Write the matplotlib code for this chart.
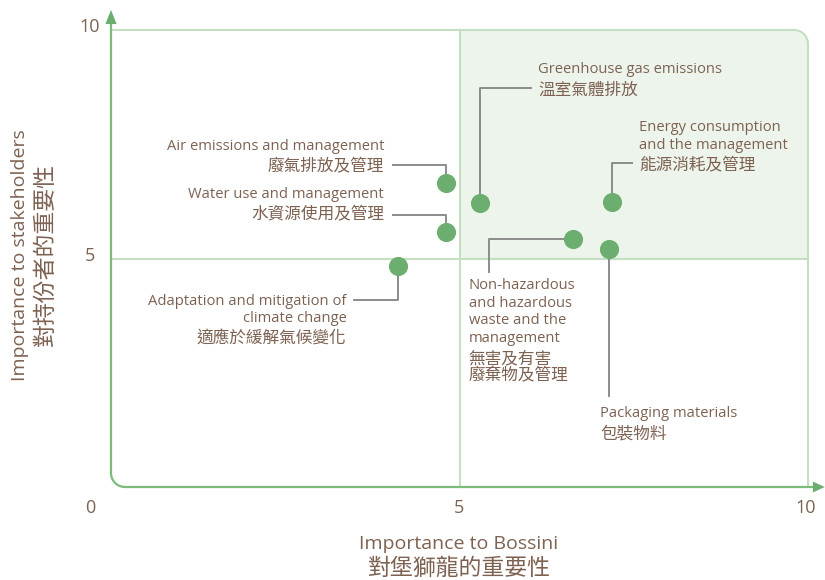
import numpy as np
import matplotlib.pyplot as plt
from matplotlib.patches import Polygon

plt.rcParams['font.family'] = ['Open Sans', 'Noto Sans CJK TC', 'DejaVu Sans']

# materiality topics
topics = [
    ['Air emissions and management', '廢氣排放及管理'],
    ['Water use and management', '水資源使用及管理'],
    ['Greenhouse gas emissions', '溫室氣體排放'],
    ['Energy consumption', 'and the management', '能源消耗及管理'],
    ['Non-hazardous', 'and hazardous', 'waste and the', 'management', '無害及有害', '廢棄物及管理'],
    ['Packaging materials', '包裝物料'],
    ['Adaptation and mitigation of', 'climate change', '適應於緩解氣候變化'],
]
bossini = [4.81, 4.81, 5.29, 7.19, 6.63, 7.14, 4.12]
stakeholders = [6.65, 5.58, 6.21, 6.24, 5.43, 5.21, 4.84]

# label layout: text anchor (x, first line y), alignment, leader route
label_pos = [(3.92, 7.45, 'right'), (3.92, 6.41, 'right'), (6.13, 9.14, 'left'),
             (7.58, 7.86, 'left'), (5.13, 4.40, 'left'), (7.02, 1.61, 'left'),
             (3.38, 4.07, 'right')]
leaders = [('vh', 7.05, 4.04), ('vh', 5.96, 4.04), ('vh', 8.72, 6.02),
           ('vh', 7.08, 7.48), ('hv', 5.42, 4.70), ('v', 2.0, None),
           ('vh', 4.09, 3.49)]

TXT = '#7d6252'
DARK = '#7dbb7d'
LIGHT = '#c4e0c2'
FILL = '#edf4eb'
DOT = '#6cae6f'
GREY = '#8c8c8c'

fig = plt.figure(figsize=(8.25, 5.8), dpi=100)
ax = fig.add_axes([111 / 825, 93 / 580, 697 / 825, 457 / 580])
ax.set_xlim(0, 10)
ax.set_ylim(0, 10)
ax.axis('off')

# corner radius in data units (~14 px)
rx, ry = 14 / 69.7, 14 / 45.7


def arc(cx, cy, a0, a1):
    t = np.radians(np.linspace(a0, a1, 20))
    return list(cx + rx * np.cos(t)), list(cy + ry * np.sin(t))


# shaded upper-right quadrant
ax_, ay_ = arc(10 - rx, 10 - ry, 0, 90)
qx = [5, 10] + ax_ + [5]
qy = [5, 5] + ay_ + [10]
ax.fill(qx, qy, color=FILL, lw=0, zorder=0, clip_on=False)

# light top/right border and mid lines
ax.plot([0] + ax_[::-1] + [10], [10] + ay_[::-1] + [0], color=LIGHT, lw=1.5,
        zorder=1, clip_on=False, solid_capstyle='butt')
ax.plot([5, 5], [0, 10], color=LIGHT, lw=1.5, zorder=1, clip_on=False)
ax.plot([0, 10], [5, 5], color=LIGHT, lw=1.5, zorder=1, clip_on=False)

# dark axes with rounded corner
bx, by = arc(rx, ry, 180, 270)
ax.plot([0] + bx + [10.1], [10.2] + by + [0], color=DARK, lw=1.6, zorder=2, clip_on=False)
ax.add_patch(Polygon([(0, 10.44), (-0.08, 10.13), (0.08, 10.13)], closed=True,
                     color=DOT, lw=0, clip_on=False, zorder=2))
ax.add_patch(Polygon([(10.24, 0), (10.07, 0.12), (10.07, -0.12)], closed=True,
                     color=DOT, lw=0, clip_on=False, zorder=2))

# tick labels
for s, x, y in [('10', 100, 27), ('5', 95, 256), ('0', 90, 508)]:
    fig.text(x / 825, 1 - y / 580, s, ha='right' if s != '0' else 'center',
             va='center', fontsize=13, color=TXT)
for s, x in [('5', 459), ('10', 806)]:
    fig.text(x / 825, 1 - 508 / 580, s, ha='center', va='center', fontsize=13, color=TXT)

# axis titles
fig.text(459 / 825, 1 - 544 / 580, 'Importance to Bossini', ha='center', va='center',
         fontsize=14, color=TXT)
fig.text(459 / 825, 1 - 569 / 580, '對堡獅龍的重要性', ha='center', va='center',
         fontsize=16.5, color=TXT, fontweight='light')
fig.text(20 / 825, 1 - 255 / 580, 'Importance to stakeholders', ha='center', va='center',
         rotation=90, fontsize=14, color=TXT)
fig.text(46 / 825, 1 - 255 / 580, '對持份者的重要性', ha='center', va='center',
         rotation=90, fontsize=16.5, color=TXT, fontweight='light')

# leader lines
for (kind, a, b), x, y in zip(leaders, bossini, stakeholders):
    if kind == 'vh':
        px, py = [x, x, b], [y, a, a]
    elif kind == 'hv':
        px, py = [x, a, a], [y, y, b]
    else:
        px, py = [x, x], [y, a]
    ax.plot(px, py, color=GREY, lw=1.4, zorder=3, clip_on=False)

ax.scatter(bossini, stakeholders, s=190, color=DOT, zorder=4, clip_on=False, lw=0)


def is_cjk(s):
    return any(ord(c) > 0x2E80 for c in s)


# labels, one line at a time
for lines, (tx, ty, ha) in zip(topics, label_pos):
    off = 0.0
    prev = None
    for ln in lines:
        cjk = is_cjk(ln)
        if prev is not None:
            off += 21 if (cjk and not prev) else 17.4
        ax.annotate(ln, xy=(tx, ty), xytext=(0, -off * 0.72), textcoords='offset points',
                    ha=ha, va='center', fontsize=12 if cjk else 10.6, color=TXT,
                    fontweight='light' if cjk else 'normal', annotation_clip=False)
        prev = cjk

fig.savefig('out.png', dpi=100)
